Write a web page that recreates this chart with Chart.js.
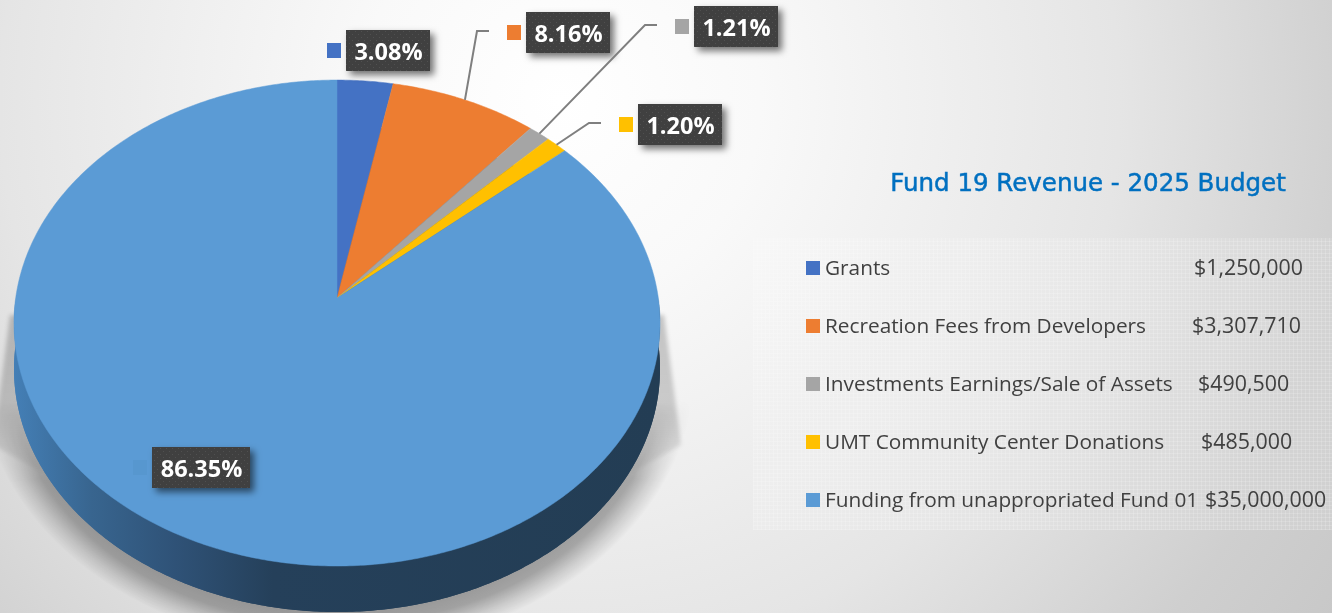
<!DOCTYPE html>
<html>
<head>
<meta charset="utf-8">
<title>Fund 19 Revenue - 2025 Budget</title>
<script src="https://cdn.jsdelivr.net/npm/chart.js@4"></script>
<style>
    html, body { margin: 0; padding: 0; }
    body {
        width: 1332px; height: 613px; overflow: hidden; position: relative;
        background: radial-gradient(circle at 560px 100px, #ffffff 0, #f9f9f9 200px, #e5e5e5 560px, #cfcfcf 800px, #c8c8c8 930px);
    }
    #panel {
        position: absolute; left: 753px; top: 238px; width: 579px; height: 292px;
        background-color: rgba(255, 255, 255, 0.1);
        background-image:
            repeating-linear-gradient(0deg, rgba(255,255,255,0.16) 0 1px, transparent 1px 4px),
            repeating-linear-gradient(90deg, rgba(255,255,255,0.16) 0 1px, transparent 1px 4px);
    }
    canvas { position: absolute; left: 0; top: 0; }
</style>
</head>
<body>
<div id="panel"></div>
<canvas id="fundChart" width="1332" height="613"></canvas>
<script>
const categories = ['Grants', 'Recreation Fees from Developers', 'Investments Earnings/Sale of Assets', 'UMT Community Center Donations', 'Funding from unappropriated Fund 01'];
const budget = [1250000, 3307710, 490500, 485000, 35000000];
const percentLabels = ['3.08%', '8.16%', '1.21%', '1.20%', '86.35%'];
const colors = ['#4472c4', '#ed7d31', '#a5a5a5', '#ffc000', '#5b9bd5'];
const chartTitle = 'Fund 19 Revenue - 2025 Budget';

// layout of the tilted disc, box x/y for each label, elbow of the leader line
const disc = { x: 337, y: 298, rx: 321.3, ry: 240.4, k: -0.103, depth: 46 };
const boxes = [[346, 30], [526, 12], [694, 6], [638, 104], [152, 447]];
const elbows = [null, [477, 31, 489], [645, 25, 657], [589, 123, 601], null];
const keyColors = ['#4472c4', '#ed7d31', '#a5a5a5', '#ffc000', '#5797cf'];
const legendValueX = [1194, 1192, 1198, 1201, 1205];

// chart.js angle -> point on the tilted disc
function project(angle) {
    const X = Math.cos(angle), Y = Math.sin(angle);
    const w = 1 + disc.k * Y;
    return [disc.x + disc.rx * X / w, disc.y + disc.ry * Y / w];
}

function tracePath(ctx, from, to, dy) {
    const steps = Math.max(2, Math.ceil(Math.abs(to - from) / 0.01));
    for (let i = 0; i <= steps; i++) {
        const p = project(from + (to - from) * i / steps);
        ctx.lineTo(p[0], p[1] + dy);
    }
}

function drawShadow(ctx) {
    // soft halo round the lower edge, masked so it only shows under the disc
    const layer = document.createElement('canvas');
    layer.width = 1332;
    layer.height = 613;
    const s = layer.getContext('2d');
    s.save();
    s.translate(337, 369);
    s.scale(358, 280);
    const halo = s.createRadialGradient(0, 0, 0.84, 0, 0, 1);
    halo.addColorStop(0, 'rgba(0, 0, 0, 0.36)');
    halo.addColorStop(0.45, 'rgba(0, 0, 0, 0.3)');
    halo.addColorStop(0.75, 'rgba(0, 0, 0, 0.12)');
    halo.addColorStop(1, 'rgba(0, 0, 0, 0)');
    s.fillStyle = halo;
    s.fillRect(-1.1, -1.1, 2.2, 2.2);
    s.restore();
    const mask = s.createLinearGradient(0, 400, 0, 480);
    mask.addColorStop(0, 'rgba(0, 0, 0, 0)');
    mask.addColorStop(1, 'rgba(0, 0, 0, 1)');
    s.globalCompositeOperation = 'destination-in';
    s.fillStyle = mask;
    s.fillRect(0, 0, 1332, 613);
    ctx.drawImage(layer, 0, 0);

    // narrow wedges either side of the disc, fading out downwards
    const fade = ctx.createLinearGradient(0, 325, 0, 490);
    fade.addColorStop(0, 'rgba(0, 0, 0, 0.2)');
    fade.addColorStop(0.55, 'rgba(0, 0, 0, 0.16)');
    fade.addColorStop(1, 'rgba(0, 0, 0, 0)');
    ctx.save();
    ctx.filter = 'blur(2px)';
    ctx.fillStyle = fade;
    ctx.beginPath();
    ctx.moveTo(664, 315);
    ctx.lineTo(681, 445);
    ctx.lineTo(600, 490);
    ctx.lineTo(74, 490);
    ctx.lineTo(-7, 445);
    ctx.lineTo(10, 315);
    ctx.closePath();
    ctx.fill();
    ctx.restore();
}

function drawWall(ctx) {
    const wall = ctx.createLinearGradient(14, 0, 660, 0);
    wall.addColorStop(0, '#447fb6');
    wall.addColorStop(0.12, '#38658f');
    wall.addColorStop(0.25, '#2f5277');
    wall.addColorStop(0.4, '#25405a');
    wall.addColorStop(1, '#233d54');
    ctx.fillStyle = wall;
    ctx.beginPath();
    tracePath(ctx, 0, Math.PI * 2, disc.depth);
    ctx.closePath();
    ctx.fill();
    ctx.beginPath();
    tracePath(ctx, 0, Math.PI, 0);
    tracePath(ctx, Math.PI, 0, disc.depth);
    ctx.closePath();
    ctx.fill();
}

function drawSlices(ctx, meta) {
    meta.data.forEach((arc, i) => {
        const a = arc.getProps(['startAngle', 'endAngle'], true);
        ctx.fillStyle = colors[i];
        ctx.strokeStyle = colors[i];
        ctx.lineWidth = 0.5;
        ctx.beginPath();
        ctx.moveTo(disc.x, disc.y);
        tracePath(ctx, a.startAngle, a.endAngle, 0);
        ctx.closePath();
        ctx.fill();
        ctx.stroke();
    });
}

function dotPattern(ctx) {
    const c = document.createElement('canvas');
    c.width = 6;
    c.height = 6;
    const p = c.getContext('2d');
    p.fillStyle = '#404040';
    p.fillRect(0, 0, 6, 6);
    p.fillStyle = '#505050';
    p.fillRect(1, 1, 1, 1);
    p.fillRect(4, 4, 1, 1);
    return ctx.createPattern(c, 'repeat');
}

function drawLabels(ctx, meta) {
    const pattern = dotPattern(ctx);
    meta.data.forEach((arc, i) => {
        const a = arc.getProps(['startAngle', 'endAngle'], true);
        const box = boxes[i];
        const w = i === 4 ? 98 : 84, h = 41;

        if (elbows[i]) {
            const rim = project((a.startAngle + a.endAngle) / 2);
            ctx.strokeStyle = '#7f7f7f';
            ctx.lineWidth = 2;
            ctx.beginPath();
            ctx.moveTo(rim[0], rim[1]);
            ctx.lineTo(elbows[i][0], elbows[i][1]);
            ctx.lineTo(elbows[i][2], elbows[i][1]);
            ctx.stroke();
        }

        ctx.fillStyle = keyColors[i];
        ctx.fillRect(box[0] - 19, box[1] + 13, 14, 15);

        ctx.save();
        ctx.shadowColor = 'rgba(0, 0, 0, 0.55)';
        ctx.shadowBlur = 7;
        ctx.shadowOffsetX = 4;
        ctx.shadowOffsetY = 4;
        ctx.fillStyle = pattern;
        ctx.fillRect(box[0], box[1], w, h);
        ctx.restore();

        ctx.fillStyle = '#ffffff';
        ctx.font = 'bold 23.5px "Open Sans"';
        ctx.textAlign = 'center';
        ctx.textBaseline = 'middle';
        ctx.fillText(percentLabels[i], box[0] + w / 2 + 0.5, box[1] + h / 2 + 3);
    });
}

function drawLegend(ctx) {
    ctx.textAlign = 'center';
    ctx.textBaseline = 'middle';
    ctx.fillStyle = '#0070c0';
    ctx.strokeStyle = '#0070c0';
    ctx.lineWidth = 0.5;
    ctx.font = '24.5px "DejaVu Sans"';
    ctx.fillText(chartTitle, 1088, 185);
    ctx.strokeText(chartTitle, 1088, 185);

    ctx.textAlign = 'left';
    categories.forEach((name, i) => {
        const y = 268 + i * 58;
        ctx.fillStyle = colors[i];
        ctx.fillRect(806, y - 7, 14, 14);
        ctx.fillStyle = '#404040';
        ctx.font = '20.8px "Open Sans"';
        ctx.fillText(name, 825, y + 1);
        ctx.font = '21.4px "Open Sans"';
        ctx.fillText('$' + budget[i].toLocaleString('en-US'), legendValueX[i], y + 1);
    });
}

const tiltedPie = {
    id: 'tiltedPie',
    beforeDatasetDraw(chart, args) {
        const ctx = chart.ctx;
        drawShadow(ctx);
        drawWall(ctx);
        drawSlices(ctx, args.meta);
        drawLabels(ctx, args.meta);
        drawLegend(ctx);
        return false;
    }
};

new Chart(document.getElementById('fundChart'), {
    type: 'pie',
    data: {
        labels: categories,
        datasets: [{ data: budget, backgroundColor: colors, borderWidth: 0 }]
    },
    options: {
        responsive: false,
        animation: false,
        plugins: {
            legend: { display: false },
            tooltip: { enabled: false }
        }
    },
    plugins: [tiltedPie]
});
</script>
</body>
</html>
